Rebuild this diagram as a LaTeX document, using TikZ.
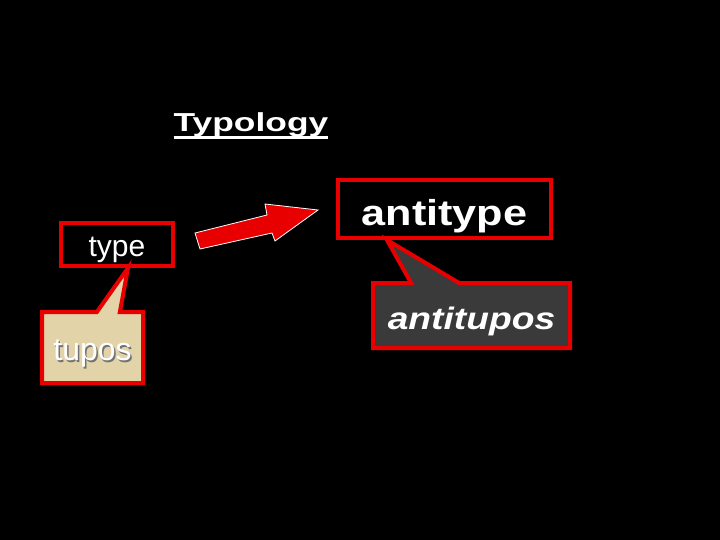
\documentclass[tikz,border=0pt]{standalone}
\usepackage{fontspec}
\setmainfont{Liberation Sans}
\usetikzlibrary{shapes.callouts}

\definecolor{slidered}{RGB}{232,0,0}
\definecolor{tuposfill}{RGB}{226,211,168}
\definecolor{antifill}{RGB}{58,58,58}

\tikzset{
  wordbox/.style={draw=slidered, line width=4pt, fill=black, text=white, inner sep=0pt},
  callbox/.style={rectangle callout, draw=slidered, line width=4pt, text=white, inner sep=0pt},
}
\newcommand{\dropword}[2]{\raisebox{-#1}[\height][\depth]{#2}}

\begin{document}
\begin{tikzpicture}[x=1pt,y=-1pt]
  \fill[black] (0,0) rectangle (720,540);
  \useasboundingbox (0,0) rectangle (720,540);

  % heading
  \node[text=white, anchor=base, inner sep=0pt, font=\fontsize{26}{30}\selectfont\bfseries] (title) at (251,132)
    {\scalebox{1.36}[1]{Typology}};
  \draw[white, line width=2.4pt] ([yshift=-5.5pt]title.base west) -- ([yshift=-5.5pt]title.base east);

  % the two words
  \node[wordbox, minimum width=112pt, minimum height=43pt] (type) at (117,244.5)
    {\fontsize{30}{36}\selectfont\dropword{5pt}{type}};
  \node[wordbox, minimum width=213pt, minimum height=58pt] (antitype) at (444.5,209)
    {\fontsize{36}{42}\selectfont\bfseries\dropword{7pt}{\scalebox{1.2}[1]{antitype}}};

  % callouts
  \node[callbox, fill=tuposfill, minimum width=101pt, minimum height=71pt,
        callout absolute pointer={([xshift=11pt]type.south)}, callout pointer width=23pt] (tupos) at (92.5,347.5)
    {\fontsize{32}{38}\selectfont\dropword{7pt}{\makebox[0pt][l]{\hspace{1.5pt}\raisebox{-1.5pt}{\color{black!55}tupos}}tupos}};
  \node[callbox, fill=antifill, minimum width=197pt, minimum height=65pt,
        callout absolute pointer={([xshift=-57.5pt]antitype.south)}, callout pointer width=48pt] (antitupos) at (471.5,315.5)
    {\fontsize{31}{36}\selectfont\bfseries\itshape\dropword{6pt}{\scalebox{1.2}[1]{antitupos}}};

  % block arrow
  \filldraw[fill=slidered, draw=white, line width=0.8pt]
    (200,249) -- (195,233) -- (267,215) -- (265,204) -- (318,210)
    -- (275,241) -- (272,233) -- cycle;
\end{tikzpicture}
\end{document}
